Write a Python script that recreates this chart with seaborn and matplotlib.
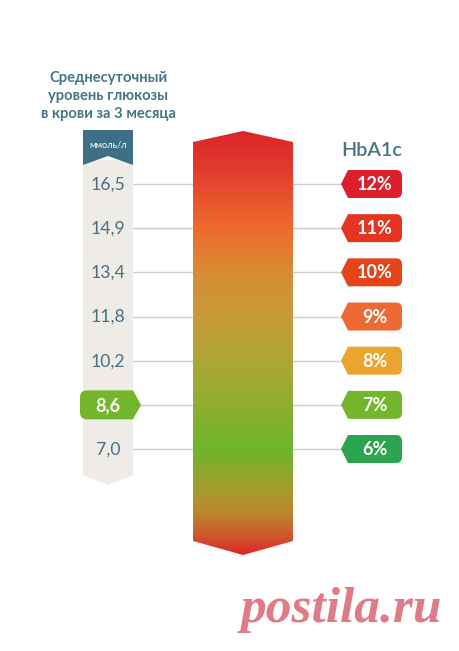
# Glucose level vs HbA1c scale
import numpy as np
import pandas as pd
import matplotlib
matplotlib.use("Agg")
import matplotlib.pyplot as plt
from matplotlib.colors import LinearSegmentedColormap
from matplotlib.patches import PathPatch, Polygon
from matplotlib.path import Path
import seaborn as sns

# values
hba1c = [12, 11, 10, 9, 8, 7, 6]
glucose = ["16,5", "14,9", "13,4", "11,8", "10,2", "8,6", "7,0"]
badge_colors = ["#dc1f2b", "#e5341f", "#e5431a", "#ee6a35", "#eaa52f", "#74b62b", "#2ca44e"]
highlight = "8,6"

# gradient of the central bar: position in HbA1c units and colour
grad_levels = [13.2, 12.4, 11, 10, 9, 8, 7, 6, 5, 4.5, 4.0, 3.6]
grad_colors = ["#dc2529", "#e03a2c", "#ee6a2e", "#d98c33", "#c69a38", "#aea636",
               "#90ae30", "#6db62b", "#a89a2e", "#bc842e", "#d0552c", "#e0262a"]

TEAL = "#447685"
BAND = "#efece7"
LINE = "#cdcdcd"
PX = 44.17  # pixels per 1% of HbA1c

sns.set_theme(style="white")
plt.rcParams["font.family"] = ["Lato", "Open Sans", "DejaVu Sans"]

fig = plt.figure(figsize=(4.6, 6.51), dpi=100)
ax = fig.add_axes([0, 0, 1, 1])
ax.set_xlim(0, 460)
ax.set_ylim(12 - (651 - 184) / PX, 12 + 184 / PX)
ax.axis("off")


def rounded(points, radius):
    # closed path from corner points, corners with a radius get a small curve
    verts, codes = [], []
    n = len(points)
    for i, (x, y, r) in enumerate(points):
        if not r:
            verts.append((x, y))
            codes.append(Path.LINETO)
            continue
        p = np.array([x, y])
        prev = np.array(points[i - 1][:2])
        nxt = np.array(points[(i + 1) % n][:2])
        scale = np.array([1, PX])
        a = p + (prev - p) * r * radius / np.linalg.norm((prev - p) * scale)
        b = p + (nxt - p) * r * radius / np.linalg.norm((nxt - p) * scale)
        verts += [tuple(a), tuple(p), tuple(b)]
        codes += [Path.LINETO, Path.CURVE3, Path.CURVE3]
    codes[0] = Path.MOVETO
    verts.append(verts[0])
    codes.append(Path.CLOSEPOLY)
    return Path(verts, codes)


# connector lines
rows = pd.DataFrame({"hba1c": hba1c, "glucose": glucose})
left = pd.DataFrame({"x": [133, 193] * 7, "y": np.repeat(hba1c, 2), "row": np.repeat(hba1c, 2)})
right = pd.DataFrame({"x": [293, 342] * 7, "y": np.repeat(hba1c, 2), "row": np.repeat(hba1c, 2)})
for lines in (left, right):
    sns.lineplot(data=lines, x="x", y="y", units="row", estimator=None, color=LINE,
                 linewidth=1, legend=False, ax=ax, zorder=1)

# left scale band with its header
top_h = 12 + (184 - 130) / PX
ax.add_patch(Polygon([(83, 12 + (184 - 160) / PX), (133, 12 + (184 - 160) / PX),
                      (133, 12 - (475 - 184) / PX), (108, 12 - (485 - 184) / PX),
                      (83, 12 - (475 - 184) / PX)], fc=BAND, ec="none", zorder=2))
ax.add_patch(Polygon([(83, top_h), (133, top_h), (133, 12 + (184 - 165) / PX),
                      (108, 12 + (184 - 156) / PX), (83, 12 + (184 - 165) / PX)],
                     fc="#3d6f87", ec="none", zorder=3))
ax.text(108, 12 + (184 - 144.5) / PX, "ммоль/л", color="white", fontsize=6.7,
        ha="center", va="center", zorder=4)

# title
for i, line in enumerate(["Среднесуточный", "уровень глюкозы", "в крови за 3 месяца"]):
    ax.text(108.5, 12 + (184 - (78 + 18 * i)) / PX, line, color=TEAL, fontsize=10.6,
            fontweight="bold", ha="center", va="center")

# central gradient bar
cmap = LinearSegmentedColormap.from_list(
    "bar", [((grad_levels[0] - g) / (grad_levels[0] - grad_levels[-1]), c)
            for g, c in zip(grad_levels, grad_colors)])
shape = Polygon([(193, 12 + (184 - 142) / PX), (243, grad_levels[0]), (293, 12 + (184 - 142) / PX),
                 (293, 12 - (541 - 184) / PX), (243, grad_levels[-1]), (193, 12 - (541 - 184) / PX)],
                fc="none", ec="none", transform=ax.transData)
ax.add_patch(shape)
img = ax.imshow(np.linspace(0, 1, 256).reshape(-1, 1), cmap=cmap, aspect="auto",
                extent=(193, 293, grad_levels[-1], grad_levels[0]), origin="upper", zorder=2)
img.set_clip_path(shape)
ax.set_xlim(0, 460)
ax.set_ylim(12 - (651 - 184) / PX, 12 + 184 / PX)

# glucose values
for row in rows.itertuples():
    if row.glucose == highlight:
        hh = 14.5 / PX
        pts = [(80, row.hba1c + hh, 1), (133, row.hba1c + hh, 0), (141, row.hba1c, 0),
               (133, row.hba1c - hh, 0), (80, row.hba1c - hh, 1)]
        ax.add_patch(PathPatch(rounded(pts, 7), fc="#74b62b", ec="none", zorder=5))
        ax.text(108, row.hba1c - 0.5 / PX, row.glucose, color="white", fontsize=13,
                fontweight="bold", ha="center", va="center", zorder=6)
    else:
        ax.text(108, row.hba1c - 0.5 / PX, row.glucose, color="#4a6f85", fontsize=12.7,
                ha="center", va="center", zorder=4)

# HbA1c badges
ax.text(372, 12 + (184 - 150) / PX, "HbA1c", color=TEAL, fontsize=14.2,
        fontweight="semibold", ha="center", va="center")
for h, c in zip(hba1c, badge_colors):
    hh = 14 / PX
    pts = [(341, h, 0), (348, h + hh, 0), (402, h + hh, 1), (402, h - hh, 1), (348, h - hh, 0)]
    ax.add_patch(PathPatch(rounded(pts, 6), fc=c, ec="none", zorder=5))
    ax.text(374.5, h - 0.5 / PX, f"{h}%", color="white", fontsize=13, fontweight="bold",
            ha="center", va="center", zorder=6)

# watermark
ax.text(341, 12 - (610 - 184) / PX, "postila.ru", color="#e07b86", fontsize=37,
        family="Liberation Serif", fontweight="bold", style="italic", ha="center", va="center")

fig.savefig("out.png", dpi=100)
